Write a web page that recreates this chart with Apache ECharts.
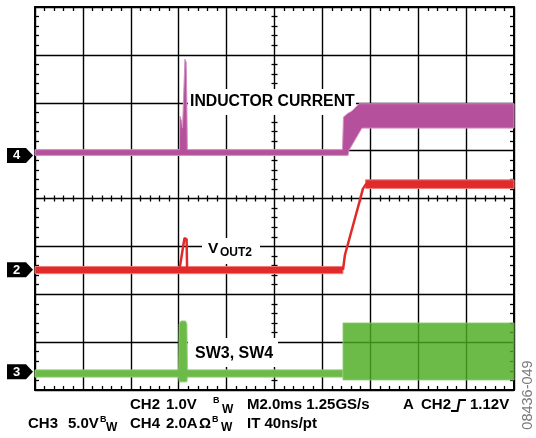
<!DOCTYPE html>
<html>
<head>
<meta charset="utf-8">
<script src="https://cdn.jsdelivr.net/npm/echarts@6/dist/echarts.min.js"></script>
<style>
  html, body { margin: 0; padding: 0; background: #fff; }
  #scope { width: 536px; height: 438px; }
</style>
</head>
<body>
<div id="scope"></div>
<script>
// Horizontal: time in ms (2 ms/div, 10 div). Vertical: screen divisions (8 div).
const timeRange = [0, 20];
const divRange = [0, 8];

// CH4 inductor current, noise envelope: [time ms, low div, high div]
const ch4Envelope = [
  [0, 4.90, 5.02],
  [6.03, 4.90, 5.02],
  [6.05, 4.90, 5.72],
  [6.12, 4.90, 5.62],
  [6.16, 4.90, 5.47],
  [6.20, 4.90, 6.06],
  [6.26, 4.90, 6.91],
  [6.31, 4.90, 6.85],
  [6.34, 4.90, 6.06],
  [6.36, 4.90, 5.02],
  [12.84, 4.90, 5.02],
  [12.88, 4.90, 5.70],
  [13.07, 4.90, 5.78],
  [13.11, 5.01, 5.79],
  [13.24, 5.12, 5.83],
  [13.53, 5.37, 5.98],
  [13.65, 5.47, 5.98],
  [20, 5.47, 5.98]
];

// CH2 output voltage: flat sections as envelopes, transitions as traces
const ch2Before = [[0, 2.43, 2.58], [12.86, 2.43, 2.58]];
const ch2After = [[13.80, 4.21, 4.39], [20, 4.21, 4.39]];
const ch2Bump = [[6.03, 2.51], [6.24, 3.17], [6.33, 3.15], [6.35, 2.55]];
const ch2Ramp = [[12.86, 2.51], [12.94, 2.82], [13.57, 3.97], [13.69, 4.20], [13.82, 4.30], [13.95, 4.30]];

// CH3 switch node: idle level with a glitch, then full switching
const ch3Envelope = [
  [0, 0.27, 0.42],
  [6.00, 0.27, 0.42],
  [6.02, 0.17, 1.38],
  [6.10, 0.17, 1.44],
  [6.28, 0.17, 1.44],
  [6.34, 0.17, 1.38],
  [6.36, 0.27, 0.42],
  [12.85, 0.27, 0.42]
];
const ch3Switching = [[12.86, 0.21, 1.40], [20, 0.21, 1.40]];

// Channel ground markers: [label, level div]
const channelMarkers = [['4', 4.90], ['2', 2.51], ['3', 0.38]];

// Settings readout: [text, left px, centre y px, font size]
const readout = [
  ['CH2', 130, 405, 15], ['1.0V', 166, 405, 15], ['B', 213, 401, 9], ['W', 222, 410, 12],
  ['M2.0ms 1.25GS/s', 247, 405, 15], ['A', 403, 405, 15], ['CH2', 421, 405, 15], ['1.12V', 470, 405, 15],
  ['CH3', 28, 424, 15], ['5.0V', 68, 424, 15], ['B', 100, 420, 9], ['W', 106, 428, 12],
  ['CH4', 130, 424, 15], ['2.0A', 166, 424, 15], ['\u03A9', 199, 424, 15], ['B', 212, 420, 9], ['W', 221, 428, 12],
  ['IT 40ns/pt', 247, 424, 15]
];

const MAGENTA = '#b5509c', MAGENTA_EDGE = '#d58fc3';
const RED = '#e12b2b', RED_EDGE = '#ee7d7d';
const GREEN = '#4cac20', GREEN_EDGE = '#8ccc6e', GREEN_SOLID = '#6cbb48';
const FONT = '"Liberation Sans", Arial, sans-serif';

function envelopeSeries(rows, fill, edge, opacity) {
  return {
    type: 'custom',
    coordinateSystem: 'cartesian2d',
    xAxisIndex: 0, yAxisIndex: 0,
    data: rows,
    encode: { x: 0, y: [1, 2] },
    silent: true,
    z: 2,
    renderItem: function (params, api) {
      if (params.dataIndex !== 0) return null;
      const upper = rows.map(r => api.coord([r[0], r[2]]));
      const lower = rows.slice().reverse().map(r => api.coord([r[0], r[1]]));
      return {
        type: 'polygon',
        shape: { points: upper.concat(lower) },
        style: { fill: fill, stroke: edge, lineWidth: 1, opacity: opacity }
      };
    }
  };
}

function traceSeries(points, color) {
  return {
    type: 'line', xAxisIndex: 0, yAxisIndex: 0, data: points,
    symbol: 'none', silent: true, z: 3,
    lineStyle: { color: color, width: 2.5 }
  };
}

const minor = len => ({ show: true, splitNumber: 5, length: len, lineStyle: { color: '#000', width: 1.3 } });

function axis(kind, position, offset, inside, len, showLine, showSplit) {
  const range = kind === 'x' ? timeRange : divRange;
  return {
    type: 'value', min: range[0], max: range[1], interval: kind === 'x' ? 2 : 1,
    position: position, offset: offset,
    axisLine: { show: showLine, onZero: false, lineStyle: { color: '#000', width: 2 } },
    axisTick: { show: false, inside: inside },
    minorTick: minor(len),
    axisLabel: { show: false },
    splitLine: { show: showSplit, lineStyle: { color: '#000', width: 1.4 } },
    minorSplitLine: { show: false }
  };
}

const chart = echarts.init(document.getElementById('scope'), null, { renderer: 'canvas' });

chart.setOption({
  animation: false,
  backgroundColor: '#fff',
  grid: { left: 35, right: 22, top: 7, bottom: 48, outerBoundsMode: 'none' },
  xAxis: [
    axis('x', 'bottom', 0, true, 4, true, true),
    axis('x', 'top', 0, true, 4, true, false),
    axis('x', 'bottom', -191.5, true, 3, false, false),
    axis('x', 'bottom', -191.5, false, 3, false, false)
  ],
  yAxis: [
    axis('y', 'left', 0, true, 4, true, true),
    axis('y', 'right', 0, true, 4, true, false),
    axis('y', 'left', -239.5, true, 3, false, false),
    axis('y', 'left', -239.5, false, 3, false, false)
  ],
  series: [
    envelopeSeries(ch3Envelope, GREEN_SOLID, GREEN_EDGE, 1),
    envelopeSeries(ch3Switching, GREEN, GREEN_EDGE, 0.82),
    envelopeSeries(ch2Before, RED, RED_EDGE, 1),
    envelopeSeries(ch2After, RED, RED_EDGE, 1),
    traceSeries(ch2Bump, RED),
    traceSeries(ch2Ramp, RED),
    envelopeSeries(ch4Envelope, MAGENTA, MAGENTA_EDGE, 1)
  ]
});

// Annotations: trace names on white panels, channel markers, readout
const bold = size => ({ fontSize: size, fontWeight: 'bold', fontFamily: FONT, fill: '#000', align: 'left', verticalAlign: 'middle' });
const graphics = [
  { type: 'rect', z: 1, shape: { x: 188, y: 89, width: 168, height: 26 }, style: { fill: '#fff' } },
  { type: 'rect', z: 1, shape: { x: 202, y: 238, width: 58, height: 26 }, style: { fill: '#fff' } },
  { type: 'rect', z: 1, shape: { x: 188, y: 338, width: 90, height: 29 }, style: { fill: '#fff' } },
  { type: 'text', z: 5, x: 190, y: 102, style: Object.assign({ text: 'INDUCTOR CURRENT' }, bold(15.8)) },
  { type: 'text', z: 5, x: 208, y: 249, style: Object.assign({ text: 'V' }, bold(15.5)) },
  { type: 'text', z: 5, x: 220, y: 252.5, style: Object.assign({ text: 'OUT2' }, bold(12)) },
  { type: 'text', z: 5, x: 195, y: 353.5, style: Object.assign({ text: 'SW3, SW4' }, bold(16)) },
  { type: 'polyline', z: 5, shape: { points: [[451, 411], [457.5, 411], [459.5, 400], [466, 400]] },
    style: { stroke: '#000', lineWidth: 2, fill: null } },
  { type: 'text', z: 5, x: 528, y: 395, rotation: Math.PI / 2,
    style: { text: '08436-049', fontSize: 14.5, fontFamily: FONT, fill: '#7a7a7a', align: 'center', verticalAlign: 'middle' } }
];

readout.forEach(([text, x, y, size]) => {
  graphics.push({ type: 'text', z: 5, x: x, y: y, style: Object.assign({ text: text }, bold(size)) });
});

channelMarkers.forEach(([label, level]) => {
  const cy = chart.convertToPixel({ yAxisIndex: 0 }, level);
  graphics.push({
    type: 'polygon', z: 5,
    shape: { points: [[7, cy - 7.5], [26, cy - 7.5], [33, cy], [26, cy + 7.5], [7, cy + 7.5]] },
    style: { fill: '#000' }
  });
  graphics.push({
    type: 'text', z: 6, x: 16.5, y: cy + 0.5,
    style: { text: label, fontSize: 13, fontWeight: 'bold', fontFamily: FONT, fill: '#fff', align: 'center', verticalAlign: 'middle' }
  });
});

chart.setOption({ graphic: graphics });
</script>
</body>
</html>
